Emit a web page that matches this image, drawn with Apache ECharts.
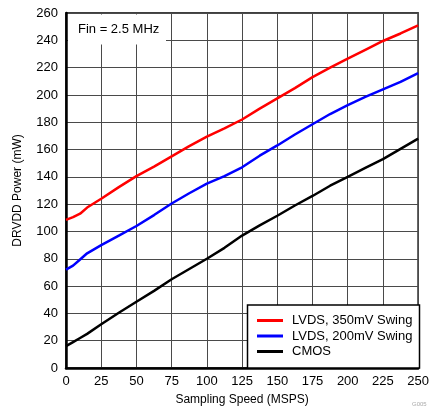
<!DOCTYPE html>
<html>
<head>
<meta charset="utf-8">
<script src="https://cdn.jsdelivr.net/npm/echarts@6/dist/echarts.min.js"></script>
<style>html,body{margin:0;padding:0;background:#fff}#c{width:432px;height:411px}</style>
</head>
<body>
<div id="c"></div>
<script>
var speeds = [0, 5, 10, 15, 25, 37.5, 50, 62.5, 75, 87.5, 100, 112.5, 125, 137.5, 150, 162.5, 175, 187.5, 200, 212.5, 225, 237.5, 250];
var lvds350 = [108.5, 110.5, 113, 117.5, 124, 132.5, 140.5, 147.5, 155, 162.5, 169.5, 175.5, 182, 190, 197.5, 205, 213, 220, 226.5, 233, 239.5, 245, 251];
var lvds200 = [72, 75, 79.5, 84, 90, 97, 104, 112, 120.5, 128, 135, 140.5, 147, 155.5, 163, 171, 178.5, 186, 192.5, 198.5, 204, 209.5, 216];
var cmos = [16, 19, 22, 25, 32, 40.5, 48.5, 56.5, 65, 72.5, 80, 88, 97, 104.5, 111.5, 119, 126, 133.5, 140, 146.5, 153, 160.5, 168];
var seriesNames = ['LVDS, 350mV Swing', 'LVDS, 200mV Swing', 'CMOS'];
var seriesColors = ['#ff0000', '#0000ff', '#000000'];
var xTitle = 'Sampling Speed (MSPS)';
var yTitle = 'DRVDD Power (mW)';
var noteText = 'Fin = 2.5 MHz';

function pairs(xs, ys) { return xs.map(function (x, i) { return [x, ys[i]]; }); }
var values = [lvds350, lvds200, cmos];
var font = '"Liberation Sans", Arial, sans-serif';

var chart = echarts.init(document.getElementById('c'), null, {renderer: 'canvas'});
chart.setOption({
  animation: false,
  backgroundColor: '#fff',
  grid: {left: 66, right: 12, top: 13, bottom: 43, show: true, borderColor: '#000', borderWidth: 1.5, backgroundColor: 'transparent'},
  xAxis: {
    type: 'value', min: 0, max: 250, interval: 25,
    name: xTitle, nameLocation: 'middle', nameGap: 26,
    nameTextStyle: {fontFamily: font, fontSize: 12, color: '#000'},
    axisLine: {show: true, lineStyle: {color: '#000', width: 2.5}},
    axisTick: {show: false},
    axisLabel: {fontFamily: font, fontSize: 13, color: '#000', margin: 7},
    splitLine: {show: true, lineStyle: {color: '#4a4a4a', width: 1}}
  },
  yAxis: {
    type: 'value', min: 0, max: 260, interval: 20,
    name: yTitle, nameLocation: 'middle', nameGap: 42,
    nameTextStyle: {fontFamily: font, fontSize: 12, color: '#000'},
    axisLine: {show: true, lineStyle: {color: '#000', width: 2.5}},
    axisTick: {show: false},
    axisLabel: {fontFamily: font, fontSize: 13, color: '#000', margin: 8},
    splitLine: {show: true, lineStyle: {color: '#4a4a4a', width: 1}}
  },
  legend: {
    orient: 'vertical', left: 252, top: 309, z: 20,
    itemWidth: 26, itemHeight: 3, itemGap: 2.5,
    icon: 'rect',
    textStyle: {fontFamily: font, fontSize: 13, color: '#000', padding: [0, 0, 0, 4]},
    data: seriesNames
  },
  graphic: [
    {type: 'rect', z: 15, shape: {x: 68, y: 14.5, width: 98, height: 30}, style: {fill: '#fff'}},
    {type: 'text', z: 16, left: 78, top: 23, style: {text: noteText, font: '13px ' + font, fill: '#000'}},
    {type: 'rect', z: 15, shape: {x: 247.5, y: 305, width: 172, height: 63}, style: {fill: '#fff', stroke: '#000', lineWidth: 1.5}},
    {type: 'text', z: 16, left: 412, top: 401, style: {text: 'G005', font: '6px ' + font, fill: '#aaa'}}
  ],
  series: seriesNames.map(function (n, i) {
    return {
      name: n, type: 'line', data: pairs(speeds, values[i]),
      showSymbol: false, symbol: 'none', smooth: false,
      lineStyle: {color: seriesColors[i], width: 2.5},
      itemStyle: {color: seriesColors[i]}
    };
  })
});
</script>
</body>
</html>
